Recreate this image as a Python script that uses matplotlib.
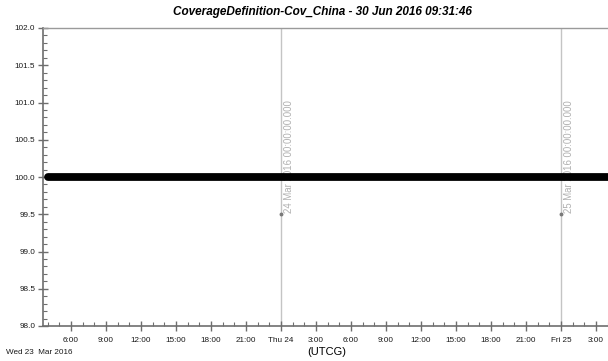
import datetime as dt
import matplotlib
matplotlib.use("Agg")
import matplotlib.pyplot as plt
import matplotlib.dates as mdates
from matplotlib import ticker

plt.rcParams['font.family'] = ['Liberation Sans', 'DejaVu Sans']

# Coverage samples (percent) over the report window
times = [dt.datetime(2016, 3, 23, 4, 0), dt.datetime(2016, 3, 25, 6, 0)]
coverage = [100.0, 100.0]

# Day boundary markers
day_marks = [dt.datetime(2016, 3, 24), dt.datetime(2016, 3, 25)]
day_labels = ["24 Mar 2016 00:00:00.000", "25 Mar 2016 00:00:00.000"]
day_mark_value = 99.5

x_start = dt.datetime(2016, 3, 23, 3, 36)
x_end = dt.datetime(2016, 3, 25, 4, 2)
y_min, y_max = 98.0, 102.0

title = "CoverageDefinition-Cov_China - 30 Jun 2016 09:31:46"
start_label = "Wed 23  Mar 2016"
x_units = "(UTCG)"

fig = plt.figure(figsize=(6.08, 3.61), dpi=100)
ax = fig.add_axes([43 / 608, 35 / 361, 1 - 43 / 608, 298 / 361])

axis_grey = "#6e6e6e"
for side in ["left", "bottom"]:
    ax.spines[side].set_color(axis_grey)
    ax.spines[side].set_linewidth(1.2)
ax.spines["top"].set_color("#9a9a9a")
ax.spines["top"].set_linewidth(1.0)
ax.spines["right"].set_visible(False)

# vertical day lines with their time stamps
for t, lab in zip(day_marks, day_labels):
    ax.axvline(t, color="#c4c4c4", lw=1.0, zorder=1)
    ax.plot([t], [day_mark_value], marker="o", ms=1.8, color="#7a7a7a", zorder=2)
    ax.text(mdates.date2num(t) + 0.012, day_mark_value + 0.02, lab, rotation=90,
            ha="left", va="bottom", fontsize=6.9, color="#b0b0b0", zorder=2)

ax.plot(times, coverage, color="black", lw=5.6, solid_capstyle="round", zorder=3)

ax.set_xlim(x_start, x_end)
ax.set_ylim(y_min, y_max)

ax.yaxis.set_major_locator(ticker.MultipleLocator(0.5))
ax.yaxis.set_minor_locator(ticker.MultipleLocator(0.1))
ax.yaxis.set_major_formatter(ticker.FormatStrFormatter("%.1f"))

ax.xaxis.set_major_locator(mdates.HourLocator(byhour=range(0, 24, 3)))
ax.xaxis.set_minor_locator(mdates.HourLocator())


def fmt_time(x, pos):
    d = mdates.num2date(x)
    if d.hour == 0 and d.minute == 0:
        return d.strftime("%a %d")
    return "%d:%02d" % (d.hour, d.minute)


ax.xaxis.set_major_formatter(ticker.FuncFormatter(fmt_time))

ax.tick_params(axis="both", which="major", direction="inout", length=7, width=1.0,
               color=axis_grey, labelsize=5.9, labelcolor="#1a1a1a")
ax.tick_params(axis="both", which="minor", direction="in", length=3, width=0.8,
               color=axis_grey)
ax.tick_params(axis="x", which="major", pad=4.5)
ax.tick_params(axis="y", which="major", pad=2)

fig.text(322 / 608, 1 - 12 / 361, title, ha="center", va="center",
         fontsize=8.5, fontweight="bold", fontstyle="italic")
fig.text(6 / 608, 1 - 352 / 361, start_label, ha="left", va="center", fontsize=5.9,
         color="#1a1a1a")
fig.text(327 / 608, 1 - 352 / 361, x_units, ha="center", va="center", fontsize=8)

fig.savefig("out.png", dpi=100)
